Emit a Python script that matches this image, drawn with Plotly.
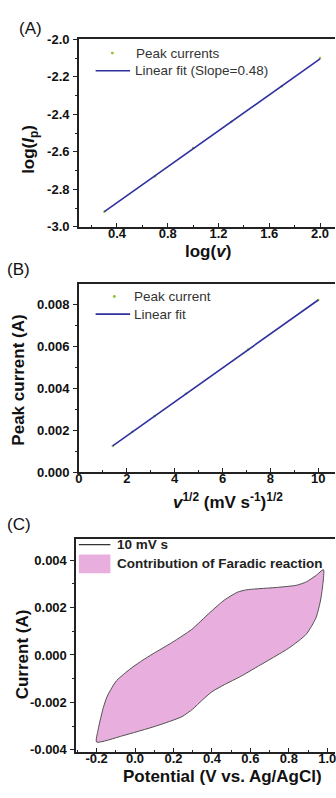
import plotly.graph_objects as go

# ---- data ----
# (A) log of scan rate vs log of peak current
log_v = [0.301, 0.699, 1.000, 1.301, 1.699, 2.000]
log_ip = [-2.92, -2.73, -2.58, -2.44, -2.25, -2.10]
fit_a_slope = 0.48
fit_a_intercept = -3.064

# (B) square root of scan rate vs peak current
sqrt_v = [1.414, 2.236, 3.162, 4.472, 7.071, 10.0]
peak_current = [0.00125, 0.00192, 0.00267, 0.00373, 0.00584, 0.00820]
fit_b_slope = 0.00081
fit_b_intercept = 0.000105

# (C) cyclic voltammogram at 10 mV/s (forward then reverse sweep)
cv_fwd_e = [-0.200, -0.192, -0.181, -0.165, -0.147, -0.120, -0.096, -0.050, -0.011,
            0.040, 0.091, 0.193, 0.295, 0.388, 0.465, 0.533, 0.580, 0.635,
            0.737, 0.839, 0.890, 0.941, 0.980]
cv_fwd_i = [-0.00367, -0.00315, -0.00274, -0.00222, -0.00178, -0.00137, -0.00108, -0.00075, -0.00050,
            -0.00022, 0.00004, 0.00053, 0.00108, 0.00178, 0.00232, 0.00265, 0.00275, 0.00279,
            0.00285, 0.00294, 0.00308, 0.00335, 0.00360]
cv_rev_e = [0.980, 0.967, 0.941, 0.890, 0.805, 0.720, 0.635, 0.550, 0.465,
            0.400, 0.350, 0.300, 0.244, 0.108, -0.062, -0.200]
cv_rev_i = [0.00360, 0.00240, 0.00157, 0.00087, 0.00032, -0.00010, -0.00050, -0.00090, -0.00125,
            -0.00155, -0.00190, -0.00228, -0.00260, -0.00300, -0.00340, -0.00367]

# tick values and labels
a_x_ticks = [0.4, 0.8, 1.2, 1.6, 2.0]
a_x_labels = ["0.4", "0.8", "1.2", "1.6", "2.0"]
a_y_ticks = [-3.0, -2.8, -2.6, -2.4, -2.2, -2.0]
a_y_labels = ["-3.0", "-2.8", "-2.6", "-2.4", "-2.2", "-2.0"]
b_x_ticks = [0, 2, 4, 6, 8, 10]
b_x_labels = ["0", "2", "4", "6", "8", "10"]
b_y_ticks = [0, 0.002, 0.004, 0.006, 0.008]
b_y_labels = ["0.000", "0.002", "0.004", "0.006", "0.008"]
c_x_ticks = [-0.2, 0.0, 0.2, 0.4, 0.6, 0.8, 1.0]
c_x_labels = ["-0.2", "0.0", "0.2", "0.4", "0.6", "0.8", "1.0"]
c_y_ticks = [-0.004, -0.002, 0.0, 0.002, 0.004]
c_y_labels = ["-0.004", "-0.002", "0.000", "0.002", "0.004"]

W, H = 336, 798
FONT = "Liberation Sans"
FIT_COLOR = "#30309f"
PT_COLOR = "#8fc23a"
FILL_COLOR = "rgba(230,165,218,0.9)"


def fx(px):
    return px / W


def fy(py):
    return 1 - py / H


fig = go.Figure()

# panel A
fa_x = [log_v[0], log_v[-1]]
fa_y = [fit_a_intercept + fit_a_slope * v for v in fa_x]
fig.add_trace(go.Scatter(x=log_v, y=log_ip, mode="markers",
                         marker=dict(color=PT_COLOR, size=2.5), xaxis="x", yaxis="y"))
fig.add_trace(go.Scatter(x=fa_x, y=fa_y, mode="lines",
                         line=dict(color=FIT_COLOR, width=1.6), xaxis="x", yaxis="y"))

# panel B
fb_x = [sqrt_v[0], sqrt_v[-1]]
fb_y = [fit_b_intercept + fit_b_slope * v for v in fb_x]
fig.add_trace(go.Scatter(x=sqrt_v, y=peak_current, mode="markers",
                         marker=dict(color=PT_COLOR, size=2.5), xaxis="x2", yaxis="y2"))
fig.add_trace(go.Scatter(x=fb_x, y=fb_y, mode="lines",
                         line=dict(color=FIT_COLOR, width=1.6), xaxis="x2", yaxis="y2"))

# panel C
fig.add_trace(go.Scatter(x=cv_fwd_e + cv_rev_e[1:], y=cv_fwd_i + cv_rev_i[1:],
                         mode="lines", fill="toself", fillcolor=FILL_COLOR,
                         line=dict(color="#505050", width=1, shape="spline", smoothing=0.6),
                         xaxis="x3", yaxis="y3"))

tickfont = dict(family=FONT, size=13, color="#111", weight="bold")


def xax(domain, rng, tv, tt, minor, anchor):
    return dict(domain=domain, range=rng, tickvals=tv, ticktext=tt, tickfont=tickfont,
                showline=True, linecolor="#222", linewidth=1.5, mirror=True,
                ticks="inside", ticklen=4, tickcolor="#222", tickwidth=1.2,
                minor=dict(dtick=minor, tick0=0, ticks="inside", ticklen=2, tickcolor="#222"),
                showgrid=False, zeroline=False, anchor=anchor, ticklabelstandoff=-6,
                ticklabeloverflow="allow")


def yax(domain, rng, tv, tt, minor, anchor):
    return dict(domain=domain, range=rng, tickvals=tv, ticktext=tt, tickfont=tickfont,
                showline=True, linecolor="#222", linewidth=1.5, mirror=False,
                ticks="outside", ticklen=4, tickcolor="#222", tickwidth=1.2,
                minor=dict(dtick=minor, tick0=0, ticks="outside", ticklen=2, tickcolor="#222"),
                showgrid=False, zeroline=False, anchor=anchor, ticklabelstandoff=1,
                ticklabeloverflow="allow")


fig.update_layout(
    width=W, height=H, autosize=False,
    margin=dict(l=0, r=0, t=0, b=0),
    paper_bgcolor="white", plot_bgcolor="white",
    showlegend=False,
    xaxis=xax([fx(76), 1], [0.10, 2.118], a_x_ticks, a_x_labels, 0.2, "y"),
    yaxis=yax([fy(224), fy(33)], [-3.0, -2.0], a_y_ticks, a_y_labels, 0.1, "x"),
    xaxis2=xax([fx(76), 1], [0, 10.7], b_x_ticks, b_x_labels, 1, "y2"),
    yaxis2=yax([fy(474), fy(282.7)], [0, 0.00895], b_y_ticks, b_y_labels, 0.001, "x2"),
    xaxis3=xax([fx(73.3), 1], [-0.306, 1.04], c_x_ticks, c_x_labels, 0.1, "y3"),
    yaxis3=yax([fy(759), fy(542)], [-0.00408, 0.0049], c_y_ticks, c_y_labels, 0.001, "x3"),
)

ann = []


def text(px, py, s, size, bold=True, angle=0, xanchor="center", color="#111"):
    ann.append(dict(x=fx(px), y=fy(py), xref="paper", yref="paper", text=s,
                    showarrow=False, textangle=angle, xanchor=xanchor, yanchor="middle",
                    font=dict(family=FONT, size=size, color=color,
                              weight="bold" if bold else "normal")))


# panel labels
text(27, 22, "(A)", 17, bold=False)
text(15, 268, "(B)", 17, bold=False)
text(15, 527, "(C)", 17, bold=False)

# axis titles
text(27, 145, "log(<i>I</i><sub>p</sub>)", 17, angle=-90)
text(207, 249, "log(<i>v</i>)", 17)
text(15, 380, "Peak current (A)", 17, angle=-90)
text(227, 503, "<i>v</i><sup>1/2</sup> (mV s<sup>-1</sup>)<sup>1/2</sup>", 17)
text(19, 660, "Current (A)", 17, angle=-90)
text(222, 784, "Potential (V vs. Ag/AgCl)", 17)

# legend texts
text(132, 47, "Peak currents", 13.5, bold=False, xanchor="left", color="#333")
text(131, 65, "Linear fit (Slope=0.48)", 13.5, bold=False, xanchor="left", color="#333")
text(130, 295, "Peak current", 13.5, bold=False, xanchor="left", color="#333")
text(130, 313, "Linear fit", 13.5, bold=False, xanchor="left", color="#333")
text(113, 548, "10 mV s", 13.5, xanchor="left", color="#222")
text(113, 567, "Contribution of Faradic reaction", 13.5, xanchor="left", color="#222")

# legend glyphs
shapes = [
    dict(type="circle", xref="paper", yref="paper", x0=fx(108.5), x1=fx(111.5),
         y0=fy(48.5), y1=fy(45.5), fillcolor=PT_COLOR, line=dict(width=0)),
    dict(type="line", xref="paper", yref="paper", x0=fx(93), x1=fx(128),
         y0=fy(65), y1=fy(65), line=dict(color=FIT_COLOR, width=1.6)),
    dict(type="circle", xref="paper", yref="paper", x0=fx(110.5), x1=fx(113.5),
         y0=fy(296.5), y1=fy(293.5), fillcolor=PT_COLOR, line=dict(width=0)),
    dict(type="line", xref="paper", yref="paper", x0=fx(93), x1=fx(128),
         y0=fy(313), y1=fy(313), line=dict(color=FIT_COLOR, width=1.6)),
    dict(type="line", xref="paper", yref="paper", x0=fx(76), x1=fx(108),
         y0=fy(548), y1=fy(548), line=dict(color="#333", width=1.2)),
    dict(type="rect", xref="paper", yref="paper", x0=fx(76), x1=fx(108),
         y0=fy(577), y1=fy(558), fillcolor=FILL_COLOR, line=dict(width=0)),
]
fig.update_layout(annotations=ann, shapes=shapes)

fig.write_html("out.html")
